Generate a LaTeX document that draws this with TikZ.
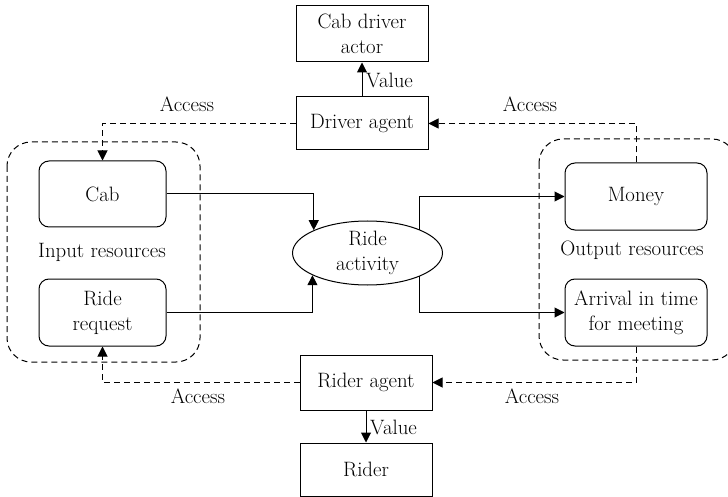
\documentclass[tikz,border=0pt]{standalone}
\usetikzlibrary{arrows.meta,shapes.geometric}
\begin{document}
\begin{tikzpicture}[x=1pt,y=-1pt,
  every node/.style={font=\fontsize{20.8}{25}\selectfont,text=black},
  agentbox/.style={draw,line width=1pt,inner sep=0pt,align=center,
    minimum width=132pt},
  resbox/.style={draw,line width=1pt,inner sep=0pt,align=center,
    rounded corners=10pt},
  group/.style={draw,line width=1pt,dash pattern=on 6pt off 4pt,
    rounded corners=24pt},
  flow/.style={draw,line width=1pt,-{Triangle[length=10pt,width=10pt]}},
  access/.style={flow,dash pattern=on 6pt off 4pt},
  lbl/.style={inner sep=0pt}]
\useasboundingbox (0,0) rectangle (728,497);

% resource groupings
\draw[group] (7,142) rectangle (200,362);
\draw[group] (539,139) rectangle (736,360);

% actors and agents
\node[agentbox,minimum height=56pt] (actor) at (362,34) {Cab driver\\actor};
\node[agentbox,minimum height=53pt] (driver) at (362,123.5) {Driver agent};
\node[agentbox,minimum height=55pt] (rider) at (366,382.5) {Rider agent};
\node[agentbox,minimum height=53pt] (person) at (366,469.5) {Rider};

% resources
\node[resbox,minimum width=127pt,minimum height=66pt] (cab) at (102.5,194) {Cab};
\node[resbox,minimum width=127pt,minimum height=67pt] (req) at (102.5,312.5) {Ride\\request};
\node[resbox,minimum width=142pt,minimum height=67pt] (money) at (636,196.5) {Money};
\node[resbox,minimum width=142pt,minimum height=67pt] (arrive) at (636,312.5) {Arrival in time\\for meeting};
\node[lbl] (inlbl) at (102,252) {Input resources};
\node[lbl] (outlbl) at (632,250) {Output resources};

% activity
\node[draw,ellipse,line width=1pt,inner sep=0pt,minimum width=150pt,
  minimum height=64pt,align=center] (ride) at (367.5,253) {Ride\\activity};

% value flows
\draw[flow] (driver) -- (actor);
\node[lbl,anchor=west] (v1) at (366,80) {Value};
\draw[flow] (rider) -- (person);
\node[lbl,anchor=west] (v2) at (370,427) {Value};

% resource flows through the activity
\draw[flow] (cab.east) -| (ride.157.3);
\draw[flow] (req.east) -| (ride.202.7);
\draw[flow] (ride.24.3) |- (money.west);
\draw[flow] (ride.-24.3) |- (arrive.west);

% access relations
\draw[access] (driver.west) -| (cab.north);
\draw[access] (money.north) |- (driver.east);
\draw[access] (rider.west) -| (req.south);
\draw[access] (arrive.south) |- (rider.east);
\node[lbl] (a1) at (187,104) {Access};
\node[lbl] (a2) at (530,104) {Access};
\node[lbl] (a3) at (198,396) {Access};
\node[lbl] (a4) at (532,396) {Access};
\end{tikzpicture}
\end{document}
